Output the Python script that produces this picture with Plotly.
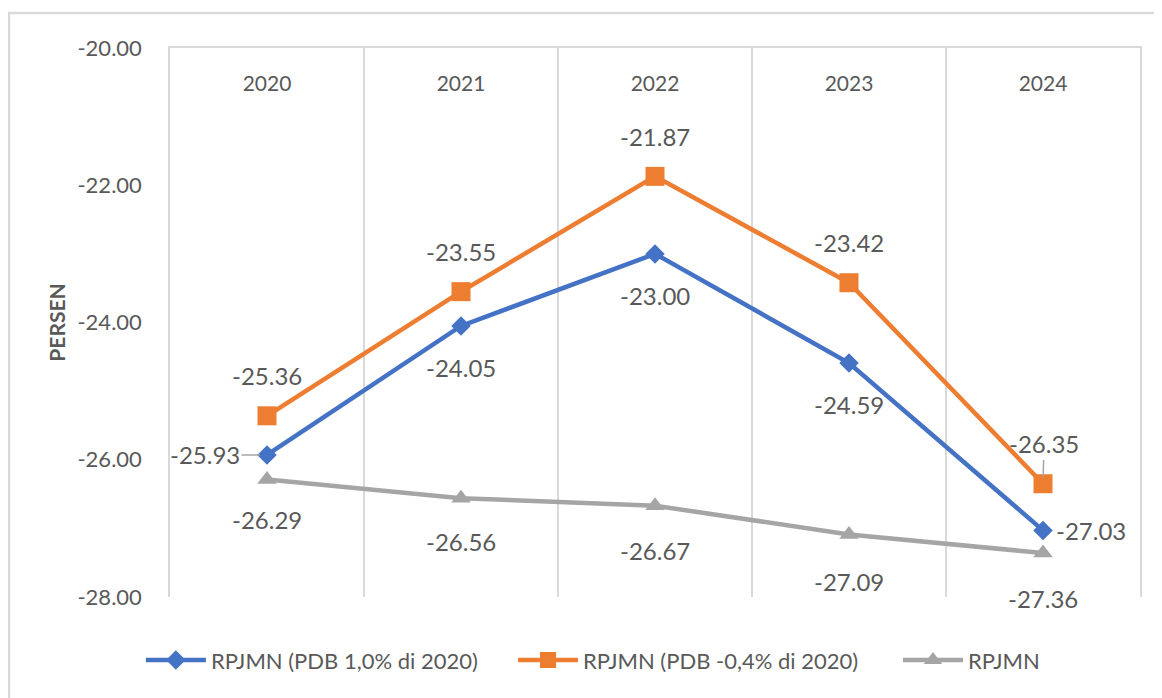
import plotly.graph_objects as go

years = ["2020", "2021", "2022", "2023", "2024"]
blue_vals = [-25.93, -24.05, -23.00, -24.59, -27.03]
orange_vals = [-25.36, -23.55, -21.87, -23.42, -26.35]
gray_vals = [-26.29, -26.56, -26.67, -27.09, -27.36]
y_ticks = [-20, -22, -24, -26, -28]
y_ticktext = ["-20.00", "-22.00", "-24.00", "-26.00", "-28.00"]
names = ["RPJMN (PDB 1,0% di 2020)", "RPJMN (PDB -0,4% di 2020)", "RPJMN"]

FONT = "Lato, sans-serif"
TXT = "#595959"
GRID = "#D9D9D9"
xs = list(range(len(years)))

fig = go.Figure()
series = [
    (blue_vals, "#4472C4", "diamond", 15, names[0], "legend"),
    (orange_vals, "#ED7D31", "square", 19, names[1], "legend2"),
    (gray_vals, "#A5A5A5", "triangle-up", 17, names[2], "legend3"),
]
for vals, col, sym, ms, nm, lg in series:
    fig.add_trace(go.Scatter(
        x=xs, y=vals, mode="lines+markers", name=nm, legend=lg,
        line=dict(color=col, width=4.5),
        marker=dict(symbol=sym, size=ms, color=col),
        xaxis="x", yaxis="y",
    ))

# invisible trace on the gridline axis
fig.add_trace(go.Scatter(x=[-0.5, 4.5], y=[-28, -28], mode="markers",
                         marker=dict(opacity=0), showlegend=False,
                         hoverinfo="skip", xaxis="x2", yaxis="y"))

# label offsets (styling): (xshift px, yshift px, arrow)
blue_off = [(-62, 0, True), (0, -42, False), (0, -42, False), (0, -42, False), (48, 0, False)]
orange_off = [(0, 40, False), (0, 40, False), (0, 40, False), (0, 40, False), (1, 40, True)]
gray_off = [(0, -40, False), (0, -43, False), (0, -45, False), (0, -47, False), (0, -45, False)]

for vals, offs in [(blue_vals, blue_off), (orange_vals, orange_off), (gray_vals, gray_off)]:
    for i, (v, (dx, dy, arr)) in enumerate(zip(vals, offs)):
        if arr:
            fig.add_annotation(x=xs[i], y=v, xref="x", yref="y", text=f"{v:.2f}",
                               showarrow=True, arrowhead=0, arrowwidth=1.5,
                               arrowcolor="#A5A5A5", ax=dx, ay=-dy, standoff=7,
                               font=dict(family=FONT, size=24, color=TXT))
        else:
            fig.add_annotation(x=xs[i], y=v, xref="x", yref="y", text=f"{v:.2f}",
                               showarrow=False, xshift=dx, yshift=dy,
                               font=dict(family=FONT, size=24, color=TXT))

# outer chart border
fig.add_shape(type="rect", xref="paper", yref="paper",
              x0=-0.166, x1=1.06, y0=-0.3, y1=1.0638,
              line=dict(color=GRID, width=2.5), layer="below")

leg_common = dict(orientation="h", y=-0.115, yanchor="middle", xanchor="left",
                  font=dict(family=FONT, size=22, color=TXT), itemwidth=60,
                  bgcolor="rgba(0,0,0,0)")

fig.update_layout(
    width=1162, height=698,
    margin=dict(l=162, r=30, t=40, b=109),
    paper_bgcolor="white", plot_bgcolor="white",
    font=dict(family=FONT, color=TXT),
    showlegend=True,
    legend=dict(x=-0.03, **leg_common),
    legend2=dict(x=0.3536, **leg_common),
    legend3=dict(x=0.7505, **leg_common),
    xaxis=dict(range=[-0.5, 4.5], tickvals=xs, ticktext=years, side="top",
               anchor="free", position=0.914,
               showgrid=False, zeroline=False, showline=False,
               ticks="", automargin=False,
               tickfont=dict(family=FONT, size=21, color=TXT)),
    xaxis2=dict(range=[-0.5, 4.5], overlaying="x", side="top", tickvals=[0.5, 1.5, 2.5, 3.5],
                showticklabels=False, showgrid=True, gridcolor=GRID, gridwidth=1.5,
                showline=True, linecolor=GRID, linewidth=2,
                zeroline=False, ticks="", automargin=False),
    yaxis=dict(range=[-28.001, -19.999], tickvals=y_ticks, ticktext=y_ticktext,
               showgrid=False, zeroline=False, showline=True, mirror=True,
               linecolor=GRID, linewidth=1.5, ticks="",
               ticklabelstandoff=22, automargin=False, ticklabeloverflow="allow",
               tickfont=dict(family=FONT, size=22, color=TXT),
               title=dict(text="PERSEN", standoff=6,
                          font=dict(family=FONT, size=21, color=TXT, weight="bold"))),
)

fig.write_html("out.html")
